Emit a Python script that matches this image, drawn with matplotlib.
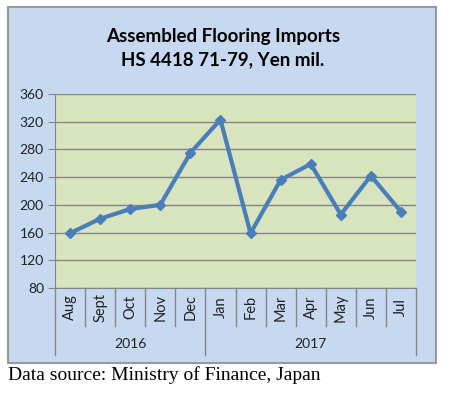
import matplotlib.pyplot as plt
from matplotlib.patches import Rectangle
import matplotlib.transforms as mtransforms

months = ['Aug', 'Sept', 'Oct', 'Nov', 'Dec', 'Jan', 'Feb', 'Mar', 'Apr', 'May', 'Jun', 'Jul']
years = ['2016', '2017']
year_spans = [(0, 4), (5, 11)]
imports = [159, 180, 194, 200, 275, 323, 159, 236, 259, 186, 242, 190]
yticks = [80, 120, 160, 200, 240, 280, 320, 360]

W, H = 449, 393
fig = plt.figure(figsize=(W / 100, H / 100), dpi=100)
fig.patch.set_facecolor('white')

# chart area box, kept under the axes
fig.patches.append(Rectangle((8 / W, 30 / H), 428 / W, 356 / H, transform=fig.transFigure,
                             facecolor='#C6D9F1', edgecolor='#9A9A9A', linewidth=1.5, zorder=-5))

ax = fig.add_axes([55 / W, 105 / H, 361 / W, 194 / H])
ax.set_zorder(2)
ax.set_facecolor('#D7E4BD')
x = list(range(len(months)))
ax.plot(x, imports, color='#4A7EBB', linewidth=3, marker='D', markersize=5, zorder=3)
ax.set_xlim(-0.5, len(months) - 0.5)
ax.set_ylim(80, 360)
ax.set_yticks(yticks)
ax.set_yticklabels([str(v) for v in yticks], fontsize=10, family='Lato', color='#222222')
ax.tick_params(axis='y', length=5, color='#868686', pad=3)
ax.set_xticks([])
ax.grid(axis='y', color='#868686', linewidth=1)
ax.set_axisbelow(True)
for s in ['top', 'right']:
    ax.spines[s].set_visible(False)
for s in ['left', 'bottom']:
    ax.spines[s].set_color('#868686')

# two-level category axis
tr = mtransforms.blended_transform_factory(ax.transData, ax.transAxes)
for k in range(len(months) + 1):
    xe = k - 0.5
    long = k == 0 or k == len(months) or k == year_spans[1][0]
    ax.plot([xe, xe], [0, -0.345 if long else -0.196], transform=tr, color='#868686',
            linewidth=1, clip_on=False)
for i, m in enumerate(months):
    ax.text(i, -0.10, m, transform=tr, rotation=90, ha='center', va='center',
            fontsize=10.5, family='Lato', color='#222222')
for yr, (a, b) in zip(years, year_spans):
    ax.text((a + b) / 2, -0.289, yr, transform=tr, ha='center', va='center',
            fontsize=10, family='Lato', color='#222222')

fig.text(223 / W, 1 - 48.5 / H, 'Assembled Flooring Imports\nHS 4418 71-79, Yen mil.',
         ha='center', va='center', fontsize=13.5, fontweight='bold', family='Lato',
         linespacing=1.45)
fig.text(8 / W, 1 - 375 / H, 'Data source: Ministry of Finance, Japan', ha='left', va='center',
         fontsize=14, family='Liberation Serif')

fig.savefig('out.png', dpi=100)
